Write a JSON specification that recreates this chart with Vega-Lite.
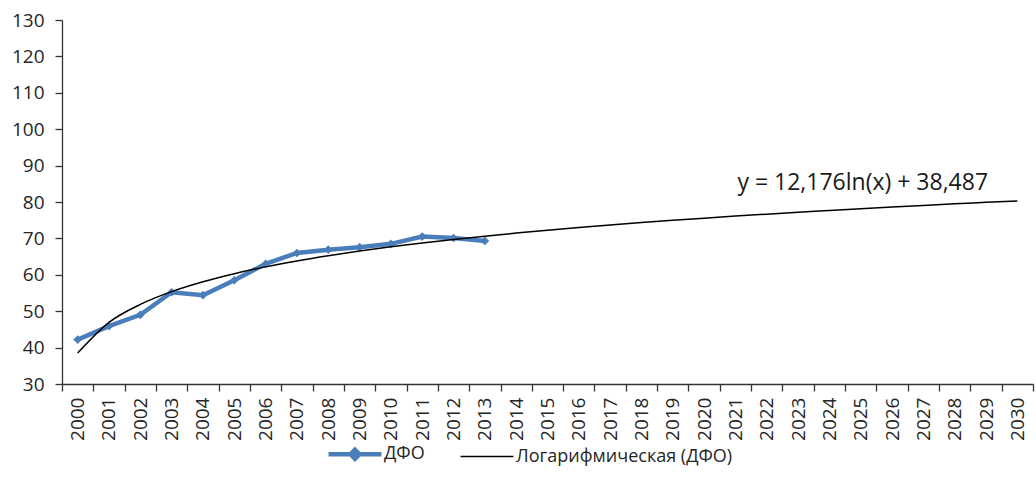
{
  "$schema": "https://vega.github.io/schema/vega-lite/v6.json",
  "width": 971,
  "height": 364,
  "autosize": {"type": "none"},
  "padding": {"left": 62, "top": 20, "right": 3, "bottom": 106},
  "background": "white",
  "config": {
    "view": {"stroke": null},
    "font": "Open Sans",
    "axis": {"labelFont": "Open Sans", "labelColor": "#262626", "domainColor": "#333333", "tickColor": "#333333", "domainWidth": 1.3, "tickWidth": 1.3, "grid": false, "title": null}
  },
  "datasets": {
    "main": [
      {"year": "2000", "series": "ДФО", "value": 42.2},
      {"year": "2001", "series": "ДФО", "value": 45.9},
      {"year": "2002", "series": "ДФО", "value": 49.0},
      {"year": "2003", "series": "ДФО", "value": 55.2},
      {"year": "2004", "series": "ДФО", "value": 54.4},
      {"year": "2005", "series": "ДФО", "value": 58.5},
      {"year": "2006", "series": "ДФО", "value": 63.0},
      {"year": "2007", "series": "ДФО", "value": 66.0},
      {"year": "2008", "series": "ДФО", "value": 66.9},
      {"year": "2009", "series": "ДФО", "value": 67.6},
      {"year": "2010", "series": "ДФО", "value": 68.5},
      {"year": "2011", "series": "ДФО", "value": 70.5},
      {"year": "2012", "series": "ДФО", "value": 70.1},
      {"year": "2013", "series": "ДФО", "value": 69.3},
      {"year": "2000", "series": "Логарифмическая (ДФО)", "value": 38.487},
      {"year": "2001", "series": "Логарифмическая (ДФО)", "value": 46.927},
      {"year": "2002", "series": "Логарифмическая (ДФО)", "value": 51.864},
      {"year": "2003", "series": "Логарифмическая (ДФО)", "value": 55.367},
      {"year": "2004", "series": "Логарифмическая (ДФО)", "value": 58.083},
      {"year": "2005", "series": "Логарифмическая (ДФО)", "value": 60.304},
      {"year": "2006", "series": "Логарифмическая (ДФО)", "value": 62.180},
      {"year": "2007", "series": "Логарифмическая (ДФО)", "value": 63.806},
      {"year": "2008", "series": "Логарифмическая (ДФО)", "value": 65.240},
      {"year": "2009", "series": "Логарифмическая (ДФО)", "value": 66.523},
      {"year": "2010", "series": "Логарифмическая (ДФО)", "value": 67.684},
      {"year": "2011", "series": "Логарифмическая (ДФО)", "value": 68.743},
      {"year": "2012", "series": "Логарифмическая (ДФО)", "value": 69.717},
      {"year": "2013", "series": "Логарифмическая (ДФО)", "value": 70.620},
      {"year": "2014", "series": "Логарифмическая (ДФО)", "value": 71.460},
      {"year": "2015", "series": "Логарифмическая (ДФО)", "value": 72.246},
      {"year": "2016", "series": "Логарифмическая (ДФО)", "value": 72.984},
      {"year": "2017", "series": "Логарифмическая (ДФО)", "value": 73.680},
      {"year": "2018", "series": "Логарифмическая (ДФО)", "value": 74.338},
      {"year": "2019", "series": "Логарифмическая (ДФО)", "value": 74.963},
      {"year": "2020", "series": "Логарифмическая (ДФО)", "value": 75.557},
      {"year": "2021", "series": "Логарифмическая (ДФО)", "value": 76.123},
      {"year": "2022", "series": "Логарифмическая (ДФО)", "value": 76.665},
      {"year": "2023", "series": "Логарифмическая (ДФО)", "value": 77.183},
      {"year": "2024", "series": "Логарифмическая (ДФО)", "value": 77.680},
      {"year": "2025", "series": "Логарифмическая (ДФО)", "value": 78.157},
      {"year": "2026", "series": "Логарифмическая (ДФО)", "value": 78.617},
      {"year": "2027", "series": "Логарифмическая (ДФО)", "value": 79.060},
      {"year": "2028", "series": "Логарифмическая (ДФО)", "value": 79.487},
      {"year": "2029", "series": "Логарифмическая (ДФО)", "value": 79.900},
      {"year": "2030", "series": "Логарифмическая (ДФО)", "value": 80.299}
    ],
    "note": [
      {"year": "2025", "value": 85.2, "label": "y = 12,176ln(x) + 38,487"}
    ]
  },
  "data": {"name": "main"},
  "encoding": {
    "x": {
      "field": "year", "type": "ordinal",
      "scale": {"type": "band", "paddingInner": 0, "paddingOuter": 0},
      "axis": {"labelAngle": -90, "labelFontSize": 19, "tickBand": "extent", "tickSize": 7, "labelPadding": 6}
    },
    "y": {
      "field": "value", "type": "quantitative",
      "scale": {"domain": [30, 130], "nice": false, "zero": false},
      "axis": {"values": [30, 40, 50, 60, 70, 80, 90, 100, 110, 120, 130], "labelFontSize": 19, "tickSize": 7, "labelPadding": 11}
    }
  },
  "layer": [
    {
      "transform": [{"filter": "datum.series === 'ДФО'"}],
      "mark": {"type": "line", "strokeWidth": 4.5},
      "encoding": {
        "color": {
          "field": "series", "type": "nominal",
          "scale": {"domain": ["ДФО", "Логарифмическая (ДФО)"], "range": ["#4A7EBB", "#000000"]},
          "legend": {
            "orient": "none", "legendX": 284, "legendY": 425, "direction": "horizontal", "title": null,
            "labelFontSize": 18, "labelColor": "#262626", "labelFont": "Open Sans", "labelLimit": 400,
            "symbolType": "stroke", "symbolSize": 2800, "symbolStrokeWidth": 1.5,
            "columnPadding": 32, "labelOffset": 20,
            "encode": {
              "symbols": {
                "update": {
                  "shape": {"signal": "datum.value === 'ДФО' ? 'M-1,0L1,0M0,-0.17L0.17,0L0,0.17L-0.17,0Z' : 'stroke'"},
                  "strokeWidth": {"signal": "datum.value === 'ДФО' ? 4.5 : 1.5"},
                  "fill": {"signal": "datum.value === 'ДФО' ? '#4A7EBB' : 'transparent'"}
                }
              }
            }
          }
        }
      }
    },
    {
      "transform": [{"filter": "datum.series === 'ДФО'"}],
      "mark": {"type": "point", "shape": "diamond", "filled": true, "size": 75, "color": "#4A7EBB", "opacity": 1},
      "encoding": {}
    },
    {
      "transform": [{"filter": "datum.series !== 'ДФО'"}],
      "mark": {"type": "line", "interpolate": "monotone", "strokeWidth": 1.5},
      "encoding": {
        "color": {"field": "series", "type": "nominal"}
      }
    },
    {
      "data": {"name": "note"},
      "mark": {"type": "text", "fontSize": 23, "font": "Open Sans", "color": "#1a1a1a", "align": "center", "baseline": "middle", "dx": 2},
      "encoding": {"text": {"field": "label"}}
    }
  ]
}
